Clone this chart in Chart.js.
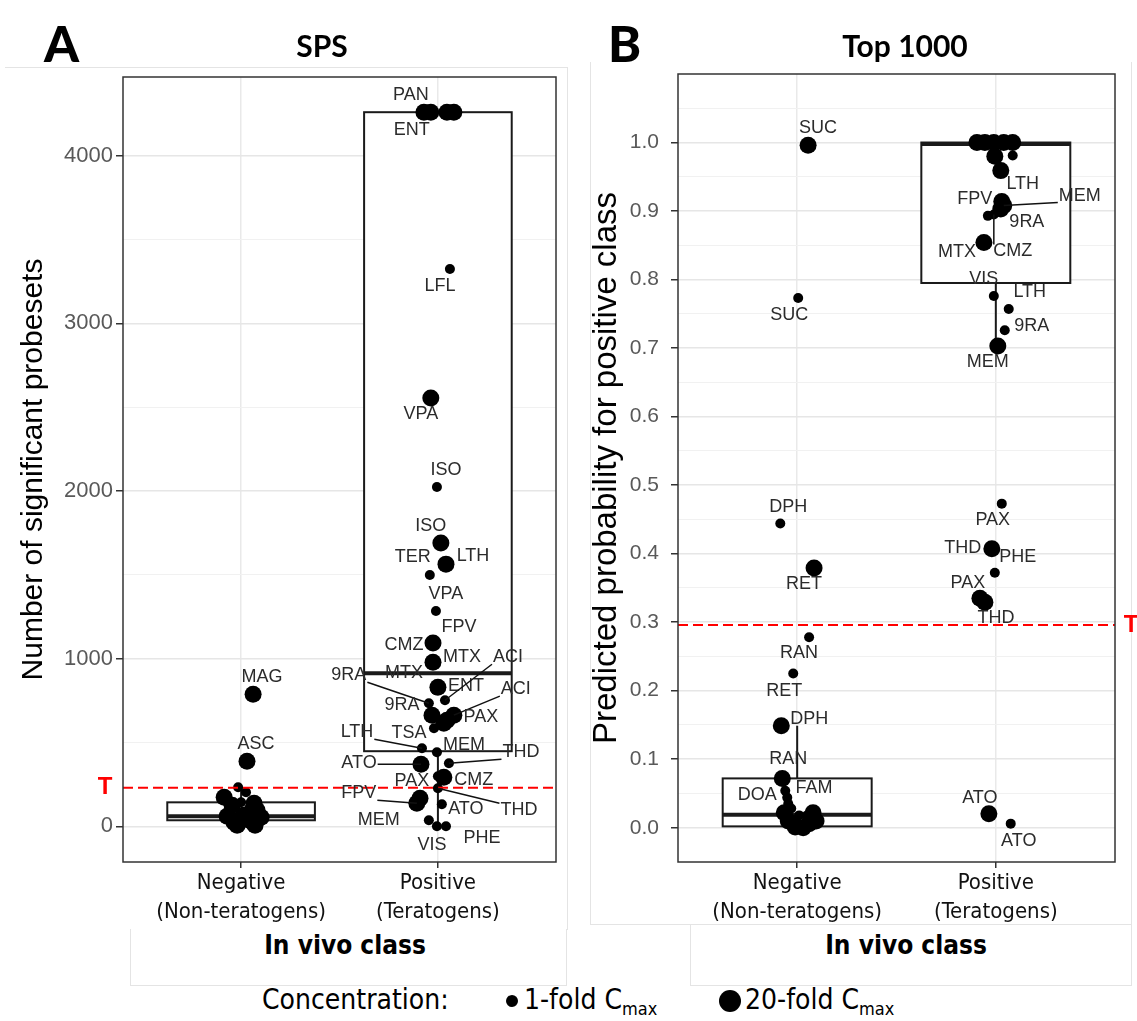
<!DOCTYPE html>
<html>
<head>
<meta charset="utf-8">
<title>SPS and Top 1000 – in vivo class</title>
<script src="https://cdn.jsdelivr.net/npm/chart.js@4.4.1/dist/chart.umd.min.js"></script>
<style>
  html, body { margin: 0; padding: 0; background: #fff; }
  #page { position: relative; width: 1137px; height: 1021px; overflow: hidden;
          font-family: "DejaVu Sans Condensed", "DejaVu Sans", sans-serif; }
  canvas { position: absolute; top: 0; }
  .abs { position: absolute; white-space: nowrap; line-height: 1; }
  .letter { font-family: Lato, "Open Sans", sans-serif; font-weight: 900; font-size: 50px; }
  .title { font-family: Lato, "Open Sans", sans-serif; font-weight: 700; font-size: 30px; transform: translateX(-50%); }
  .xtitle { font-weight: bold; font-size: 26px; transform: translateX(-50%); }
  .box { position: absolute; border: 0 solid #e4e4e4; }
  .legend { font-size: 28px; }
  .legend sub { font-size: 18px; vertical-align: -6px; }
  .dot { position: absolute; background: #000; border-radius: 50%; }
</style>
</head>
<body>
<div id="page">
  <div class="box" style="left:5px;top:67px;width:562px;height:862px;border-top-width:1px;border-right-width:1px;"></div>
  <div class="box" style="left:130px;top:929px;width:435px;height:56px;border-width:0 1px 1px 1px;"></div>
  <div class="box" style="left:590px;top:62px;width:540px;height:862px;border-width:0 1px 1px 1px;"></div>
  <div class="box" style="left:690px;top:925px;width:440px;height:60px;border-width:0 1px 1px 1px;"></div>

  <canvas id="spsChart" width="570" height="930" style="left:0"></canvas>
  <canvas id="topChart" width="562" height="930" style="left:575px"></canvas>

  <div class="abs letter" style="left:44px;top:18px;">A</div>
  <div class="abs letter" style="left:608px;top:18px;">B</div>
  <div class="abs title" style="left:322px;top:30px;">SPS</div>
  <div class="abs title" style="left:905px;top:30px;">Top 1000</div>

  <div class="abs xtitle" style="left:345px;top:932px;">In vivo class</div>
  <div class="abs xtitle" style="left:906px;top:932px;">In vivo class</div>

  <div class="abs legend" style="left:262px;top:986px;">Concentration:</div>
  <div class="dot" style="left:506px;top:995px;width:12px;height:12px;"></div>
  <div class="abs legend" style="left:524px;top:986px;">1-fold C<sub>max</sub></div>
  <div class="dot" style="left:719px;top:990px;width:22px;height:22px;"></div>
  <div class="abs legend" style="left:745px;top:986px;">20-fold C<sub>max</sub></div>
</div>

<script>
// x categories (in vivo class), drawn at 1 and 2
const classLabels = [['Negative', '(Non-teratogens)'], ['Positive', '(Teratogens)']];

// ---------- SPS: number of significant probesets ----------
const spsTicks = [0, 1000, 2000, 3000, 4000];
const spsName = [
  'MAG', 'ASC', '', '', '', '', '', '', '', '', '', '', '', '', '', '', '', '',
  'PAN', 'ENT', '', '', 'LFL', 'VPA', 'ISO', 'ISO', 'LTH', 'TER', 'VPA', 'FPV', 'CMZ', 'MTX', 'ENT',
  'ACI', '9RA', 'MTX', '9RA', 'ACI', 'PAX', '', 'TSA', 'LTH', 'MEM', 'THD', 'ATO', 'PAX', 'CMZ', 'THD',
  'FPV', '', 'ATO', 'MEM', 'PHE', 'VIS'
];
const spsClass = [
  0, 0, 0, 0, 0, 0, 0, 0, 0, 0, 0, 0, 0, 0, 0, 0, 0, 0,
  1, 1, 1, 1, 1, 1, 1, 1, 1, 1, 1, 1, 1, 1, 1,
  1, 1, 1, 1, 1, 1, 1, 1, 1, 1, 1, 1, 1, 1, 1,
  1, 1, 1, 1, 1, 1
];
const spsFold = [
  20, 20, 1, 1, 20, 20, 20, 1, 20, 20, 20, 20, 20, 20, 20, 20, 1, 1,
  20, 20, 20, 20, 1, 20, 1, 20, 20, 1, 1, 1, 20, 20, 20,
  1, 1, 1, 20, 20, 20, 20, 1, 1, 1, 1, 20, 1, 20, 1,
  20, 20, 1, 1, 1, 1
];
const spsValue = [
  788, 388, 233, 203, 173, 125, 137, 143, 96, 54, 60, 24, 66, 30, 6, 6, 96, 107,
  4260, 4260, 4260, 4260, 3325, 2555, 2024, 1690, 1564, 1499, 1284, 1093, 1093, 979, 830,
  752, 734, 812, 663, 663, 633, 615, 585, 466, 442, 376, 370, 299, 293, 227,
  137, 167, 131, 36, 0, 0
];
const spsJitter = [
  0.061, 0.030, -0.015, 0.025, -0.086, -0.046, 0.066, 0.000, 0.081, 0.102, -0.071, -0.036, 0.010, 0.051, 0.071, -0.020, -0.061, 0.041,
  -0.071, -0.036, 0.046, 0.081, 0.061, -0.036, -0.005, 0.015, 0.041, -0.041, -0.010, -0.025, -0.025, -0.025, 0.000,
  0.036, -0.046, -0.010, -0.030, 0.081, 0.046, 0.030, -0.020, -0.081, -0.005, 0.056, -0.086, 0.000, 0.030, 0.000,
  -0.107, -0.091, 0.020, -0.046, 0.041, -0.005
];
// boxplot stats per class: [lower whisker, q1, median, q3, upper whisker]
const spsBox = [[0, 36, 60, 143, 233], [0, 448, 913, 4260, 4260]];
const spsThreshold = 230;

// ---------- Top 1000: predicted probability for positive class ----------
const topTicks = [0, 0.1, 0.2, 0.3, 0.4, 0.5, 0.6, 0.7, 0.8, 0.9, 1.0];
const topName = [
  'SUC', 'SUC', 'DPH', 'RET', 'RAN', 'RET', 'DPH', 'RAN', 'DOA', '', '', 'FAM', '', '', '', '', '', '', '', '', '',
  '', '', '', '', '', '', '', '', '', '', 'LTH', 'MEM', 'FPV', '9RA', 'CMZ', 'MTX', 'VIS', 'LTH', '9RA', 'MEM',
  'PAX', 'THD', 'PHE', 'PAX', 'THD', 'ATO', 'ATO'
];
const topClass = [
  0, 0, 0, 0, 0, 0, 0, 0, 0, 0, 0, 0, 0, 0, 0, 0, 0, 0, 0, 0, 0,
  1, 1, 1, 1, 1, 1, 1, 1, 1, 1, 1, 1, 1, 1, 1, 1, 1, 1, 1, 1,
  1, 1, 1, 1, 1, 1, 1
];
const topFold = [
  20, 1, 1, 20, 1, 1, 20, 20, 1, 1, 1, 20, 20, 20, 20, 20, 20, 20, 1, 1, 1,
  20, 20, 20, 20, 20, 1, 1, 20, 20, 1, 20, 20, 20, 1, 1, 20, 1, 1, 1, 20,
  1, 20, 1, 20, 20, 20, 1
];
const topValue = [
  0.996, 0.773, 0.444, 0.379, 0.278, 0.225, 0.149, 0.072, 0.054, 0.044, 0.035, 0.022, 0.022, 0.010, 0.001, 0.000, 0.006, 0.010, 0.018, 0.028, 0.018,
  1.000, 1.000, 1.000, 1.000, 1.000, 1.000, 0.997, 0.980, 0.959, 0.981, 0.914, 0.908, 0.903, 0.893, 0.895, 0.854, 0.776, 0.757, 0.726, 0.703,
  0.473, 0.407, 0.372, 0.335, 0.329, 0.0205, 0.006
];
const topJitter = [
  0.055, 0.005, -0.085, 0.085, 0.060, -0.020, -0.080, -0.075, -0.060, -0.050, -0.045, 0.080, -0.065, -0.045, -0.010, 0.030, 0.060, 0.095, 0.010, -0.030, 0.050,
  -0.095, -0.055, -0.010, 0.040, 0.085, 0.020, -0.030, -0.005, 0.025, 0.085, 0.030, 0.040, 0.025, -0.040, -0.010, -0.060, -0.010, 0.065, 0.045, 0.010,
  0.030, -0.020, -0.005, -0.080, -0.055, -0.035, 0.075
];
const topBox = [[0, 0.002, 0.019, 0.072, 0.149], [0.703, 0.795, 0.998, 1.0, 1.0]];
const topThreshold = 0.296;

// label placement (pixel offset from its point) and which labels get a leader line
const spsNudge = [
  [9, -17], [9, -17], null, null, null, null, null, null, null, null, null, null, null, null, null, null, null, null,
  [-13, -17], [-19, 18], null, null, [-10, 17], [-10, 16], [9, -17], [-10, -17], [27, -8], [-17, -18], [10, -17],
  [26, -16], [-29, 2], [29, -5], [28, -1], [63, -43], [-80, -28], [-32, -17], [-30, -10], [62, -26], [34, -3], null,
  [-25, 5], [-65, -16], [27, -7], [72, -11], [-62, -1], [-26, 5], [30, 3], [81, 22], [-58, -10], null, [24, 5],
  [-50, 0], [36, 12], [-5, 19]
];
const spsLinked = [33, 34, 37, 41, 43, 44, 47, 48];
const topNudge = [
  [10, -17], [-9, 17], [8, -16], [-10, 16], [-10, 16], [-9, 17], [28, -7], [6, -19], [-28, 4], null, null, [1, -25],
  null, null, null, null, null, null, null, null, null,
  null, null, null, null, null, null, null, null, null, null,
  [21, -17], [76, -10], [-26, -10], [39, 6], [19, 37], [-27, 9], [-10, -17], [21, -17], [27, -4], [-10, 16],
  [-9, 16], [-29, -1], [23, -16], [-12, -15], [11, 16], [-9, -16], [8, 17]
];
const topLinked = [32, 35];

Chart.defaults.font.family = '"Liberation Sans", Arial, sans-serif';

// boxes under the points; threshold, names and panel border on top
function panelMarks(p) {
  const pos = i => p.cls[i] + 1 + p.jitter[i];
  return {
    id: 'panelMarks',
    beforeDatasetsDraw(chart) {
      const { ctx, scales: { x, y } } = chart;
      ctx.save();
      ctx.strokeStyle = '#1a1a1a';
      p.box.forEach((s, i) => {
        const c = i + 1;
        const xl = x.getPixelForValue(c - 0.375), xr = x.getPixelForValue(c + 0.375), xm = x.getPixelForValue(c);
        const [lo, q1, med, q3, hi] = s.map(v => y.getPixelForValue(v));
        ctx.lineWidth = 2;
        ctx.beginPath();
        ctx.moveTo(xm, lo); ctx.lineTo(xm, q1);
        ctx.moveTo(xm, q3); ctx.lineTo(xm, hi);
        ctx.stroke();
        ctx.fillStyle = '#fff';
        ctx.fillRect(xl, q3, xr - xl, q1 - q3);
        ctx.strokeRect(xl, q3, xr - xl, q1 - q3);
        ctx.lineWidth = 4;
        ctx.beginPath(); ctx.moveTo(xl, med); ctx.lineTo(xr, med); ctx.stroke();
      });
      ctx.restore();
    },
    afterDatasetsDraw(chart) {
      const { ctx, chartArea: a, scales: { x, y } } = chart;
      ctx.save();
      const ty = y.getPixelForValue(p.threshold);
      ctx.strokeStyle = '#ff0000';
      ctx.lineWidth = 2;
      ctx.setLineDash([10, 5]);
      ctx.beginPath(); ctx.moveTo(a.left, ty); ctx.lineTo(a.right, ty); ctx.stroke();
      ctx.setLineDash([]);
      ctx.fillStyle = '#ff0000';
      ctx.font = 'bold 24px "Liberation Sans", Arial';
      ctx.textAlign = 'center';
      ctx.textBaseline = 'middle';
      ctx.fillText('T', p.tLeft ? a.left - 18 : a.right + 16, ty);

      ctx.font = '18px "Liberation Sans", Arial';
      p.name.forEach((n, i) => {
        if (!n) return;
        const px = x.getPixelForValue(pos(i)), py = y.getPixelForValue(p.value[i]);
        const lx = px + p.nudge[i][0], ly = py + p.nudge[i][1];
        if (p.linked.includes(i)) {
          const hw = ctx.measureText(n).width / 2 + 1, hh = 7;
          const ex = Math.min(Math.max(px, lx - hw), lx + hw);
          const ey = Math.min(Math.max(py, ly - hh), ly + hh);
          ctx.strokeStyle = '#111';
          ctx.lineWidth = 1.5;
          ctx.beginPath(); ctx.moveTo(px, py); ctx.lineTo(ex, ey); ctx.stroke();
        }
        ctx.fillStyle = '#2b2b2b';
        ctx.fillText(n, lx, ly);
      });

      ctx.strokeStyle = '#333';
      ctx.lineWidth = 1.5;
      ctx.strokeRect(a.left, a.top, a.right - a.left, a.bottom - a.top);
      ctx.restore();
    }
  };
}

function drawPanel(id, p) {
  const pts = p.value.map((v, i) => ({ x: p.cls[i] + 1 + p.jitter[i], y: v }));
  const step = p.ticks[1] - p.ticks[0];
  const minor = p.ticks.map(v => v + step / 2).filter(v => v < p.yMax);
  const yTicks = p.ticks.map(v => ({ value: v, major: true }))
    .concat(minor.map(v => ({ value: v, major: false })))
    .sort((a, b) => a.value - b.value);

  new Chart(document.getElementById(id), {
    type: 'scatter',
    data: {
      datasets: [
        { label: '1-fold', data: pts.filter((_, i) => p.fold[i] === 1), pointRadius: 5, backgroundColor: '#000', borderWidth: 0 },
        { label: '20-fold', data: pts.filter((_, i) => p.fold[i] === 20), pointRadius: 8.5, backgroundColor: '#000', borderWidth: 0 }
      ]
    },
    options: {
      responsive: false,
      animation: false,
      events: [],
      layout: { padding: { top: p.top, right: p.right, left: 0, bottom: 0 } },
      plugins: { legend: { display: false }, tooltip: { enabled: false } },
      scales: {
        x: {
          type: 'linear', min: 0.4, max: 2.6,
          afterBuildTicks: s => { s.ticks = [{ value: 1 }, { value: 2 }]; },
          afterFit: s => { s.height = 68; },
          ticks: {
            callback: v => classLabels[v - 1],
            color: '#111', padding: 0, maxRotation: 0, autoSkip: false,
            font: { family: '"DejaVu Sans Condensed", "DejaVu Sans"', size: 22, lineHeight: 1.35 }
          },
          grid: { color: '#e9e9e9', lineWidth: 1.5, tickLength: 6, tickColor: '#333' },
          border: { display: false }
        },
        y: {
          type: 'linear', min: p.yMin, max: p.yMax,
          afterBuildTicks: s => { s.ticks = yTicks; },
          afterFit: s => { s.width = p.axisWidth; },
          ticks: {
            callback: (v, i, t) => (t[i].major ? p.fmt(v) : ''),
            color: '#595959', padding: p.tickPad, autoSkip: false,
            font: { size: p.tickSize }
          },
          grid: {
            color: c => (c.tick && c.tick.major ? '#e6e6e6' : '#f1f1f1'),
            lineWidth: c => (c.tick && c.tick.major ? 1.5 : 1),
            tickLength: 7,
            tickColor: c => (c.tick && c.tick.major ? '#333' : 'rgba(0,0,0,0)')
          },
          border: { display: false },
          title: {
            display: true, text: p.yTitle, color: '#000',
            font: { size: p.titleSize }, padding: { top: p.titlePad, bottom: 0 }
          }
        }
      }
    },
    plugins: [panelMarks(p)]
  });
}

drawPanel('spsChart', {
  name: spsName, cls: spsClass, fold: spsFold, value: spsValue, jitter: spsJitter,
  box: spsBox, threshold: spsThreshold, nudge: spsNudge, linked: spsLinked,
  ticks: spsTicks, fmt: v => String(v), yMin: -213, yMax: 4470,
  yTitle: 'Number of significant probesets', titleSize: 30, titlePad: 16,
  tickSize: 22, tickPad: 3,
  top: 77, right: 14, axisWidth: 123, tLeft: true
});

drawPanel('topChart', {
  name: topName, cls: topClass, fold: topFold, value: topValue, jitter: topJitter,
  box: topBox, threshold: topThreshold, nudge: topNudge, linked: topLinked,
  ticks: topTicks, fmt: v => v.toFixed(1), yMin: -0.05, yMax: 1.1,
  yTitle: 'Predicted probability for positive class', titleSize: 33, titlePad: 12,
  tickSize: 21, tickPad: 12,
  top: 74, right: 22, axisWidth: 103, tLeft: false
});
</script>
</body>
</html>
